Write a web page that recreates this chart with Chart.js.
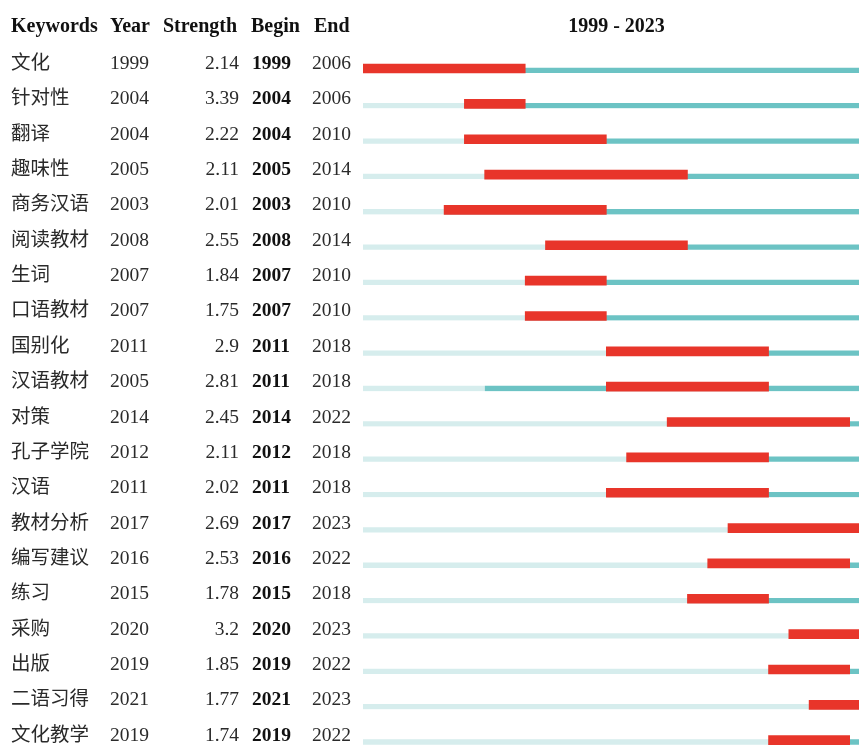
<!DOCTYPE html>
<html>
<head>
<meta charset="utf-8">
<script src="https://cdn.jsdelivr.net/npm/chart.js@4.4.0/dist/chart.umd.min.js"></script>
<style>
html, body { margin: 0; padding: 0; background: #fff; overflow: hidden; }
#wrap { position: relative; width: 859px; height: 745px; }
</style>
</head>
<body>
<div id="wrap"><canvas id="burst"></canvas></div>
<script>
// keywords and burst data
var keywords = ["文化", "针对性", "翻译", "趣味性", "商务汉语", "阅读教材", "生词", "口语教材", "国别化", "汉语教材",
  "对策", "孔子学院", "汉语", "教材分析", "编写建议", "练习", "采购", "出版", "二语习得", "文化教学"];
var years = [1999, 2004, 2004, 2005, 2003, 2008, 2007, 2007, 2011, 2005, 2014, 2012, 2011, 2017, 2016, 2015, 2020, 2019, 2021, 2019];
var strengths = ["2.14", "3.39", "2.22", "2.11", "2.01", "2.55", "1.84", "1.75", "2.9", "2.81", "2.45", "2.11", "2.02", "2.69", "2.53", "1.78", "3.2", "1.85", "1.77", "1.74"];
var begins = [1999, 2004, 2004, 2005, 2003, 2008, 2007, 2007, 2011, 2011, 2014, 2012, 2011, 2017, 2016, 2015, 2020, 2019, 2021, 2019];
var ends = [2006, 2006, 2010, 2014, 2010, 2014, 2010, 2010, 2018, 2018, 2022, 2018, 2018, 2023, 2022, 2018, 2023, 2022, 2023, 2022];
var firstYear = 1999, lastYear = 2023;

var pale = [], teal = [], red = [];
for (var i = 0; i < keywords.length; i++) {
  if (years[i] > firstYear) pale.push({ y: i, x: [firstYear, years[i]] });
  teal.push({ y: i, x: [years[i], lastYear + 1] });
  red.push({ y: i, x: [begins[i], ends[i] + 1] });
}

var serif = '"Liberation Serif", "Times New Roman", serif';
var cjk = '"Liberation Serif", "Noto Sans CJK SC", serif';

var tablePlugin = {
  id: 'table',
  afterDraw: function (chart) {
    var ctx = chart.ctx;
    var ys = chart.scales.y;
    ctx.save();
    ctx.textBaseline = 'alphabetic';
    ctx.fillStyle = '#111';
    ctx.font = 'bold 20px ' + serif;
    ctx.textAlign = 'left';
    ctx.fillText('Keywords', 11, 32);
    ctx.fillText('Year', 110, 32);
    ctx.fillText('Strength', 163, 32);
    ctx.fillText('Begin', 251, 32);
    ctx.fillText('End', 314, 32);
    ctx.textAlign = 'center';
    var xs = chart.scales.x;
    ctx.fillText(firstYear + ' - ' + lastYear, (xs.getPixelForValue(firstYear) + xs.getPixelForValue(lastYear + 1)) / 2, 32);
    for (var i = 0; i < keywords.length; i++) {
      var by = ys.getPixelForValue(i) + 0.5;
      ctx.fillStyle = '#2a2a2a';
      ctx.textAlign = 'left';
      ctx.font = '19.5px ' + cjk;
      ctx.fillText(keywords[i], 11, by);
      ctx.font = '19.5px ' + serif;
      ctx.fillText(String(years[i]), 110, by);
      ctx.fillText(String(ends[i]), 312, by);
      ctx.textAlign = 'right';
      ctx.fillText(strengths[i], 239, by);
      ctx.textAlign = 'left';
      ctx.fillStyle = '#111';
      ctx.font = 'bold 19.5px ' + serif;
      ctx.fillText(String(begins[i]), 252, by);
    }
    ctx.restore();
  }
};

var thin = { top: 4, bottom: 0, left: 0, right: 0 };

new Chart(document.getElementById('burst'), {
  type: 'bar',
  data: {
    datasets: [
      { label: 'burst', data: red, backgroundColor: '#e8352a', barThickness: 9, order: 1 },
      { label: 'active', data: teal, backgroundColor: '#6cc3c4', borderColor: 'rgba(0,0,0,0)', borderWidth: thin, borderSkipped: false, barThickness: 9, order: 2 },
      { label: 'before', data: pale, backgroundColor: '#d6eded', borderColor: 'rgba(0,0,0,0)', borderWidth: thin, borderSkipped: false, barThickness: 9, order: 3 }
    ]
  },
  options: {
    indexAxis: 'y',
    responsive: true,
    maintainAspectRatio: false,
    animation: false,
    grouped: false,
    layout: { padding: { left: 363, right: 0, top: 0, bottom: 0 } },
    scales: {
      x: { type: 'linear', min: firstYear, max: 2023.46, display: false },
      y: { type: 'linear', min: -1.938, max: 19.137, reverse: true, offset: false, display: false }
    },
    plugins: { legend: { display: false }, tooltip: { enabled: false } }
  },
  plugins: [tablePlugin]
});
</script>
</body>
</html>
